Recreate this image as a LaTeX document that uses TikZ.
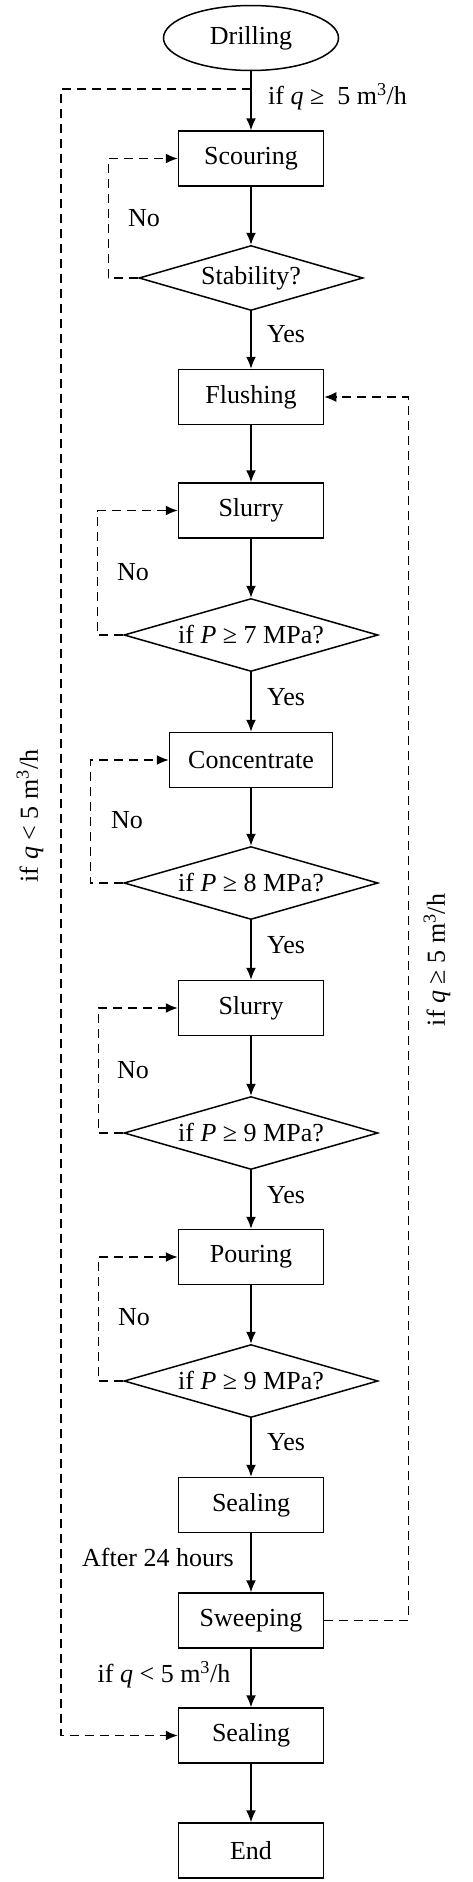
\documentclass[tikz,border=0pt]{standalone}
\usepackage{fontspec}
\setmainfont{Liberation Serif}
\usetikzlibrary{shapes.geometric,arrows.meta}
\begin{document}
\begin{tikzpicture}[x=1pt,y=-1pt,
  every node/.style={font=\fontsize{26}{30}\selectfont, inner sep=0pt},
  proc/.style={draw, line width=1.5pt, minimum width=145pt, minimum height=55pt},
  dec/.style={draw, diamond, shape aspect=3.5, line width=1.5pt, minimum width=254pt, minimum height=73pt},
  term/.style={draw, ellipse, line width=1.5pt, minimum width=175pt, minimum height=65pt},
  flow/.style={line width=1.5pt, -{Latex[length=12pt,width=10pt]}},
  backarr/.style={line width=1.5pt, dash pattern=on 9pt off 6pt, -{Latex[length=12pt,width=10pt]}},
  lbl/.style={anchor=west}
]
\useasboundingbox (0,0) rectangle (473,1882);

\node[term] (drill) at (251,38) {Drilling};
\node[proc] (scour) at (251,158.5) {Scouring};
\node[dec, minimum width=224pt, minimum height=65pt] (stab) at (251,278) {Stability?};
\node[proc] (flush) at (251,397) {Flushing};
\node[proc] (slurryA) at (251,510.5) {Slurry};
\node[dec] (dA) at (251,635) {if \textit{P} ≥ 7 MPa?};
\node[proc, minimum width=163pt] (conc) at (251,760) {Concentrate};
\node[dec] (dB) at (251,883) {if \textit{P} ≥ 8 MPa?};
\node[proc] (slurryB) at (251,1008) {Slurry};
\node[dec] (dC) at (251,1133) {if \textit{P} ≥ 9 MPa?};
\node[proc] (pour) at (251,1257) {Pouring};
\node[dec] (dD) at (251,1381) {if \textit{P} ≥ 9 MPa?};
\node[proc] (sealA) at (251,1505) {Sealing};
\node[proc] (sweep) at (251,1620.5) {Sweeping};
\node[proc] (sealB) at (251,1735.5) {Sealing};
\node[proc] (fin) at (251,1850.5) {End};

% main flow
\draw[flow] (drill) -- (scour);
\draw[flow] (scour) -- (stab);
\draw[flow] (stab) -- (flush);
\draw[flow] (flush) -- (slurryA);
\draw[flow] (slurryA) -- (dA);
\draw[flow] (dA) -- (conc);
\draw[flow] (conc) -- (dB);
\draw[flow] (dB) -- (slurryB);
\draw[flow] (slurryB) -- (dC);
\draw[flow] (dC) -- (pour);
\draw[flow] (pour) -- (dD);
\draw[flow] (dD) -- (sealA);
\draw[flow] (sealA) -- (sweep);
\draw[flow] (sweep) -- (sealB);
\draw[flow] (sealB) -- (fin);

% loops
\draw[backarr] (stab.west) -- ++(-30,0) |- (scour.west);
\draw[backarr] (dA.west) -- ++(-26,0) |- (slurryA.west);
\draw[backarr] (dB.west) -- ++(-33,0) |- (conc.west);
\draw[backarr] (dC.west) -- ++(-25,0) |- (slurryB.west);
\draw[backarr] (dD.west) -- ++(-25,0) |- (pour.west);

% big loops
\coordinate (j) at (251,89);
\draw[backarr] (j) -- ++(-190,0) |- (sealB.west);
\draw[backarr] (sweep.east) -- ++(84,0) |- (flush.east);

% labels
\node[lbl] (lq1) at (268,97) {if \textit{q} ≥\ \ 5 m\textsuperscript{3}/h};
\node[lbl] (y1) at (267,334) {Yes};
\node[lbl] (y2) at (267,697) {Yes};
\node[lbl] (y3) at (267,945) {Yes};
\node[lbl] (y4) at (267,1195) {Yes};
\node[lbl] (y5) at (267,1442) {Yes};
\node[lbl] (n1) at (128,218) {No};
\node[lbl] (n2) at (117,572) {No};
\node[lbl] (n3) at (111,820) {No};
\node[lbl] (n4) at (117,1070) {No};
\node[lbl] (n5) at (118,1317) {No};
\node (after) at (158,1557) {After 24 hours};
\node (lq2) at (164,1675) {if \textit{q} < 5 m\textsuperscript{3}/h};
\node[rotate=90] (lq3) at (30,816) {if \textit{q} < 5 m\textsuperscript{3}/h};
\node[rotate=90] (lq4) at (437,960) {if \textit{q} ≥ 5 m\textsuperscript{3}/h};
\end{tikzpicture}
\end{document}
